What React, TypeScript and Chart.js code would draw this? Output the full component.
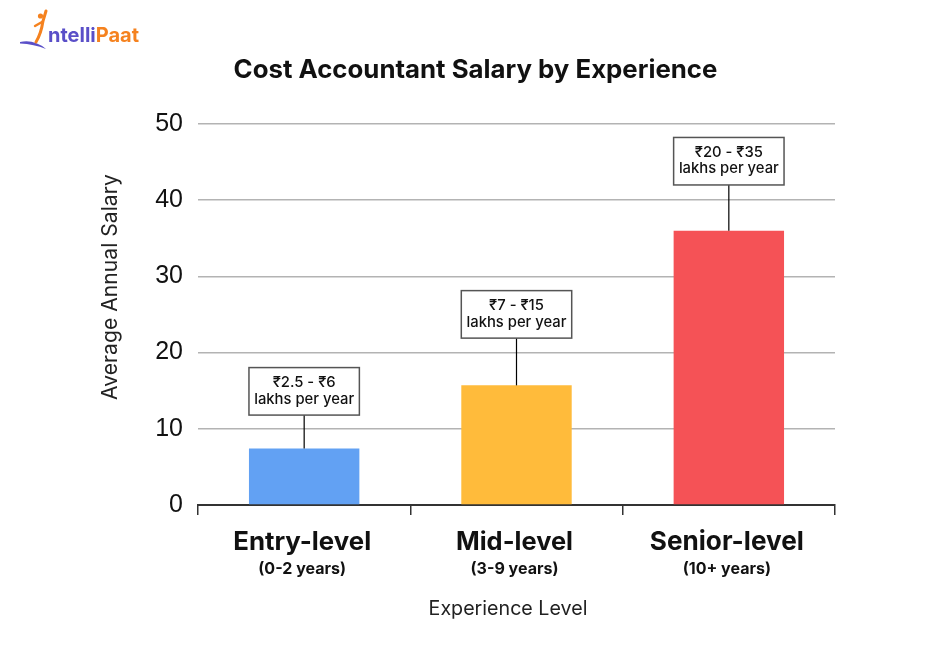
import React, { useEffect, useRef } from "react";
import { Chart, registerables } from "chart.js";

Chart.register(...registerables);

// ---- data ----
const categories = ["Entry-level", "Mid-level", "Senior-level"];
const subLabels = ["(0-2 years)", "(3-9 years)", "(10+ years)"];
const salaryValues = [7.4, 15.7, 36];
const rangeLabels = ["₹2.5 - ₹6", "₹7 - ₹15", "₹20 - ₹35"];
const rangeUnit = "lakhs per year";
const calloutLevels = [11.8, 21.9, 42];
const barColors = ["#62a1f3", "#ffbb3b", "#f55256"];
const chartTitle = "Cost Accountant Salary by Experience";
const yTitle = "Average Annual Salary";
const xTitle = "Experience Level";
const yMin = 0;
const yMax = 50;
const yStep = 10;

const FONT = "Inter, 'Open Sans', 'Noto Sans', sans-serif";
const TICK_FONT = "'Liberation Sans', Arial, sans-serif";
const PURPLE = "#5a4fc8";
const ORANGE = "#f5821f";

function fitFont(ctx: CanvasRenderingContext2D, text: string, weight: string, family: string, targetW: number) {
  ctx.font = `${weight} 100px ${family}`;
  const w = ctx.measureText(text).width;
  const size = (100 * targetW) / w;
  ctx.font = `${weight} ${size}px ${family}`;
}

const overlayPlugin = {
  id: "overlay",
  afterDraw(chart: any) {
    const ctx: CanvasRenderingContext2D = chart.ctx;
    const x = chart.scales.x;
    const y = chart.scales.y;
    const area = chart.chartArea;
    const meta = chart.getDatasetMeta(0);
    ctx.save();

    // callouts
    meta.data.forEach((bar: any, i: number) => {
      const half = bar.width / 2;
      const cx = bar.x;
      const bottom = y.getPixelForValue(calloutLevels[i]);
      const top = bottom - 47.5;
      ctx.strokeStyle = "#000";
      ctx.lineWidth = 1.2;
      ctx.beginPath();
      ctx.moveTo(cx, bottom);
      ctx.lineTo(cx, bar.y);
      ctx.stroke();
      ctx.fillStyle = "#fff";
      ctx.fillRect(cx - half, top, half * 2, bottom - top);
      ctx.strokeStyle = "#555";
      ctx.lineWidth = 1.5;
      ctx.strokeRect(cx - half, top, half * 2, bottom - top);
      ctx.fillStyle = "#111";
      ctx.textAlign = "center";
      ctx.textBaseline = "alphabetic";
      ctx.font = `500 14.8px ${FONT}`;
      ctx.fillText(rangeLabels[i], cx, top + 19.5);
      ctx.fillText(rangeUnit, cx, top + 36);
    });

    // category labels
    ctx.fillStyle = "#111";
    ctx.textAlign = "center";
    ctx.textBaseline = "alphabetic";
    const mainW = [138, 117, 154];
    categories.forEach((c, i) => {
      const cx = x.getPixelForValue(i) - 2;
      fitFont(ctx, c, "700", FONT, mainW[i]);
      ctx.fillText(c, cx, 550);
      ctx.font = `700 16px ${FONT}`;
      ctx.fillText(subLabels[i], cx, 574);
    });

    // x title
    ctx.fillStyle = "#222";
    fitFont(ctx, xTitle, "400", FONT, 159);
    ctx.fillText(xTitle, 508, 615);

    // y title
    ctx.save();
    ctx.translate(111, 287);
    ctx.rotate(-Math.PI / 2);
    ctx.textBaseline = "middle";
    fitFont(ctx, yTitle, "400", FONT, 226);
    ctx.fillText(yTitle, 0, 0);
    ctx.restore();

    // chart title
    ctx.fillStyle = "#111";
    fitFont(ctx, chartTitle, "700", FONT, 484);
    ctx.fillText(chartTitle, (area.left + area.right) / 2 - 41, 78);

    // logo
    ctx.lineCap = "round";
    ctx.fillStyle = PURPLE;
    ctx.beginPath();
    ctx.moveTo(20, 42);
    ctx.quadraticCurveTo(34, 39, 46, 49);
    ctx.quadraticCurveTo(34, 44, 20, 43.5);
    ctx.closePath();
    ctx.fill();
    ctx.strokeStyle = ORANGE;
    ctx.lineWidth = 3;
    ctx.beginPath();
    ctx.moveTo(46, 11);
    ctx.lineTo(43, 21);
    ctx.quadraticCurveTo(41, 34, 36, 42);
    ctx.stroke();
    ctx.lineWidth = 2.4;
    ctx.beginPath();
    ctx.moveTo(35, 26);
    ctx.lineTo(42, 22);
    ctx.stroke();
    ctx.fillStyle = ORANGE;
    ctx.beginPath();
    ctx.arc(40.5, 16, 2.6, 0, Math.PI * 2);
    ctx.fill();
    ctx.textAlign = "left";
    ctx.textBaseline = "alphabetic";
    ctx.font = `700 20px ${FONT}`;
    ctx.fillStyle = PURPLE;
    ctx.fillText("ntelli", 48, 42);
    const w1 = ctx.measureText("ntelli").width;
    ctx.fillStyle = ORANGE;
    ctx.fillText("Paat", 48 + w1, 42);

    ctx.restore();
  },
};

export default function App() {
  const ref = useRef<HTMLCanvasElement | null>(null);
  useEffect(() => {
    document.body.style.margin = "0";
    const canvas = ref.current!;
    const chart = new Chart(canvas, {
      type: "bar",
      data: {
        labels: categories,
        datasets: [
          {
            data: salaryValues,
            backgroundColor: barColors,
            borderWidth: 0,
            barPercentage: 0.52,
            categoryPercentage: 1,
          },
        ],
      },
      options: {
        responsive: false,
        animation: false,
        devicePixelRatio: 1,
        layout: { padding: { top: 124, right: 115, bottom: 0, left: 0 } },
        plugins: {
          legend: { display: false },
          tooltip: { enabled: false },
          title: { display: false },
        },
        scales: {
          x: {
            grid: {
              display: true,
              drawOnChartArea: false,
              drawTicks: true,
              tickLength: 10,
              color: "#333",
              lineWidth: 1.5,
              offset: true,
            },
            border: { display: true, color: "#333", width: 2 },
            ticks: { display: false },
            afterFit: (s: any) => {
              s.height = 143;
            },
          },
          y: {
            min: yMin,
            max: yMax,
            ticks: {
              stepSize: yStep,
              padding: 15,
              color: "#111",
              font: { family: TICK_FONT, size: 25 },
            },
            grid: {
              drawTicks: false,
              lineWidth: 1.5,
              color: (c: any) => (c.tick && c.tick.value === 0 ? "rgba(0,0,0,0)" : "#b3b3b3"),
            },
            border: { display: false },
            afterFit: (s: any) => {
              s.width = 198;
            },
          },
        },
      },
      plugins: [overlayPlugin],
    });
    return () => chart.destroy();
  }, []);
  return (
    <div style={{ width: 950, height: 648, background: "#fff" }}>
      <canvas ref={ref} width={950} height={648} />
    </div>
  );
}
